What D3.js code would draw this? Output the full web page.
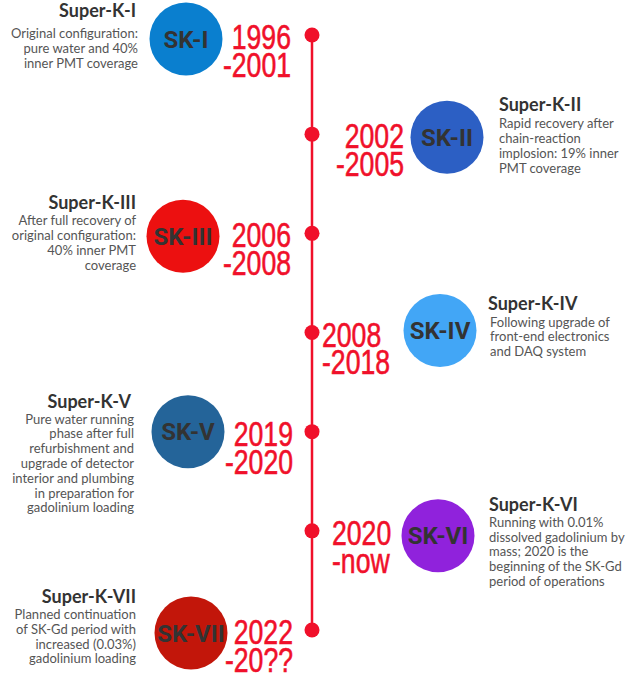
<!DOCTYPE html>
<html><head><meta charset="utf-8">
<script src="https://cdn.jsdelivr.net/npm/d3@7"></script>
<style>
html,body{margin:0;padding:0;background:#fff;}
svg{display:block;}
</style></head>
<body>
<script>
// ---- data ----
const titles = ["Super-K-I","Super-K-II","Super-K-III","Super-K-IV","Super-K-V","Super-K-VI","Super-K-VII"];
const abbrevs = ["SK-I","SK-II","SK-III","SK-IV","SK-V","SK-VI","SK-VII"];
const yearStart = ["1996","2002","2006","2008","2019","2020","2022"];
const yearEnd = ["-2001","-2005","-2008","-2018","-2020","-now","-20??"];
const descriptions = [
  ["Original configuration:","pure water and 40%","inner PMT coverage"],
  ["Rapid recovery after","chain-reaction","implosion: 19% inner","PMT coverage"],
  ["After full recovery of","original configuration:","40% inner PMT","coverage"],
  ["Following upgrade of","front-end electronics","and DAQ system"],
  ["Pure water running","phase after full","refurbishment and","upgrade of detector","interior and plumbing","in preparation for","gadolinium loading"],
  ["Running with 0.01%","dissolved gadolinium by","mass; 2020 is the","beginning of the SK-Gd","period of operations"],
  ["Planned continuation","of SK-Gd period with","increased (0.03%)","gadolinium loading"]
];
const circleColors = ["#0a7fcf","#2c5fc4","#ec1010","#42a6f6","#246499","#9022dc","#c2160a"];

// ---- layout (kept apart from data) ----
const W = 627, H = 679;
const lineX = 312;
const red = "#f0102a";
const titleDy = [-18,-23,-24,-23,-24,-20,-27];
const descGap = [21,17,16,17,16,16,16];
const circleX = [186,447,183,440,188,438,191];
const textX  = [136,499,136,488,131,489,136];
const descX  = [138,499,136,490,134,489,136];
const yearX  = [291,404,291,322,293,332,293];
const yearAnchor = ["end","end","end","start","end","start","end"];
const circleDy = [4,3,3,-2,0,5,3];

const svg = d3.select("body").append("svg").attr("width",W).attr("height",H);

const y = d3.scalePoint().domain(d3.range(titles.length)).range([35,630]);

svg.append("line").attr("x1",lineX).attr("x2",lineX)
  .attr("y1",y(0)).attr("y2",y(titles.length-1))
  .attr("stroke",red).attr("stroke-width",2.5);

const rows = svg.selectAll("g.row").data(d3.range(titles.length)).join("g").attr("class","row");

rows.append("circle").attr("cx",lineX).attr("cy",i=>y(i)).attr("r",7.5).attr("fill",red);

rows.append("circle").attr("cx",i=>circleX[i]).attr("cy",i=>y(i)+circleDy[i]).attr("r",36.5)
  .attr("fill",i=>circleColors[i]);

rows.append("text").attr("x",i=>circleX[i]).attr("y",i=>y(i)+circleDy[i]+8.5)
  .attr("text-anchor","middle").attr("font-family","Roboto, sans-serif").attr("font-weight",700)
  .attr("font-size",24).attr("fill","#333").text(i=>abbrevs[i]);

// years
const yr = rows.append("text").attr("font-family","'Liberation Sans', Arial, sans-serif")
  .attr("font-size",36).attr("fill",red).attr("stroke",red).attr("stroke-width",0.6)
  .attr("text-anchor",i=>yearAnchor[i])
  .attr("transform",i=>`translate(${yearX[i]},${y(i)})scale(0.74,1)`);
yr.append("tspan").attr("x",0).attr("y",14).text(i=>yearStart[i]);
yr.append("tspan").attr("x",0).attr("y",42).text(i=>yearEnd[i]);

// titles
rows.append("text").attr("x",i=>textX[i]).attr("y",i=>y(i)+titleDy[i])
  .attr("text-anchor",i=>i%2===0?"end":"start")
  .attr("font-family","Lato, 'Open Sans', sans-serif").attr("font-weight",700)
  .attr("font-size",18).attr("fill","#333").text(i=>titles[i]);

// descriptions
rows.each(function(i){
  const t = d3.select(this).append("text")
    .attr("text-anchor",i%2===0?"end":"start")
    .attr("font-family","Lato, 'Open Sans', sans-serif")
    .attr("font-size",13).attr("fill","#555");
  t.selectAll("tspan").data(descriptions[i]).join("tspan")
    .attr("x",descX[i]).attr("y",(d,k)=>y(i)+titleDy[i]+descGap[i]+k*14.8).text(d=>d);
});
</script>
</body></html>
